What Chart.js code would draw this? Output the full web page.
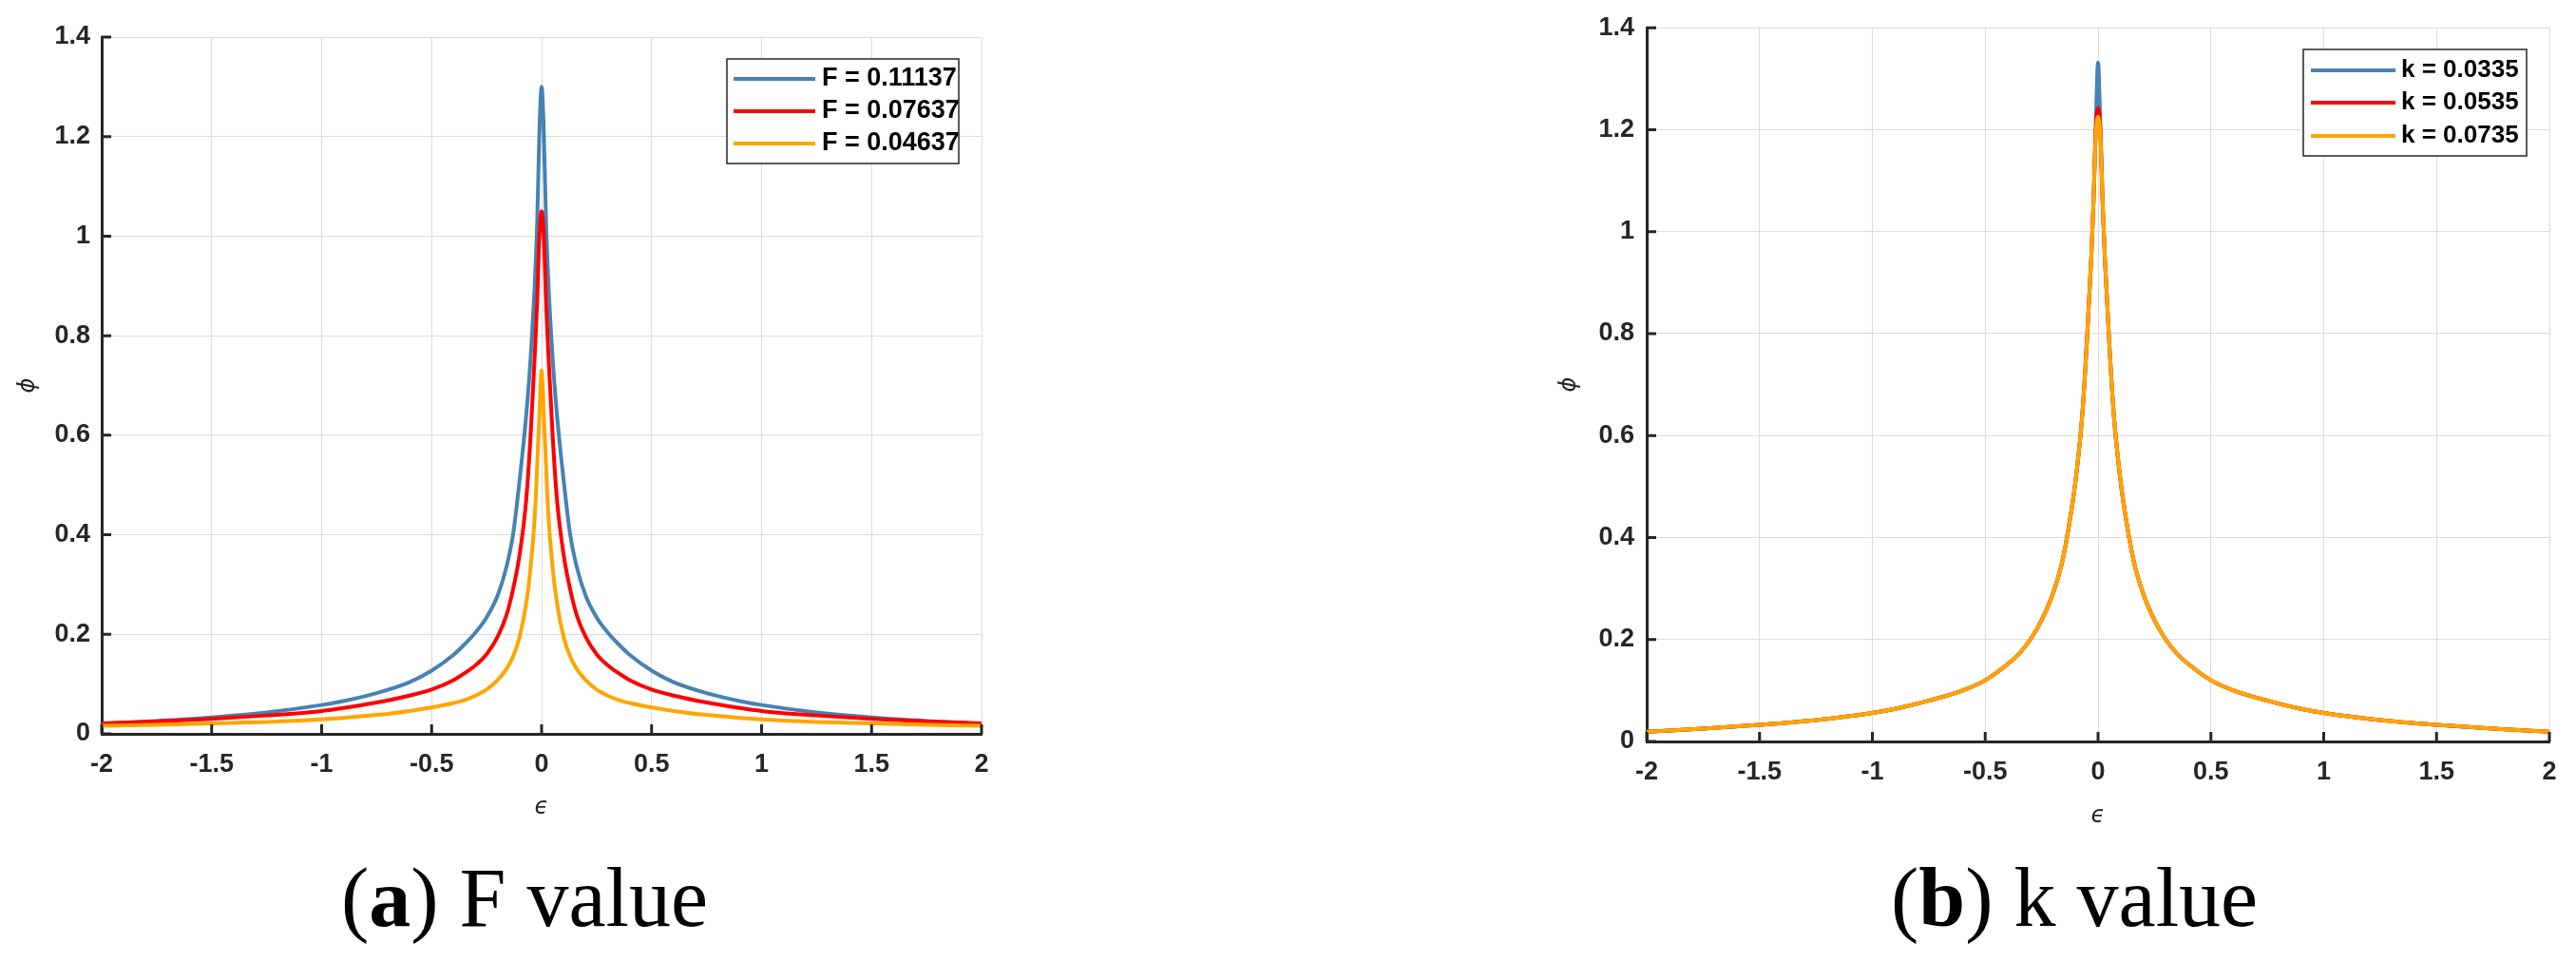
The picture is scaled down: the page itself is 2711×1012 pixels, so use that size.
<!DOCTYPE html>
<html><head><meta charset="utf-8">
<script src="https://cdn.jsdelivr.net/npm/chart.js@4.4.1/dist/chart.umd.min.js"></script>
<style>
html,body{margin:0;padding:0;background:#fff;}
#wrap{position:relative;width:2711px;height:1012px;overflow:hidden;background:#fff;}
canvas{position:absolute;}
.cap{position:absolute;font-family:"Liberation Serif","Times New Roman",serif;font-size:88px;line-height:88px;color:#000;white-space:nowrap;}
</style></head><body>
<div id="wrap">
<canvas id="c1" width="1100" height="880" style="left:0;top:0"></canvas>
<canvas id="c2" width="1111" height="880" style="left:1600px;top:0"></canvas>
<div class="cap" style="left:359px;top:901px">(<b>a</b>) F value</div>
<div class="cap" style="left:1990px;top:901px">(<b>b</b>) k value</div>
</div>
<script>
// ---- data ----
const epsilon = [-2,-1.75,-1.5,-1.25,-1,-0.9,-0.75,-0.6,-0.5,-0.4,-0.35,-0.3,-0.25,-0.2,-0.16,-0.13,-0.1,-0.07,-0.05,-0.03,-0.02,-0.01,
                 0,
                 0.01,0.02,0.03,0.05,0.07,0.1,0.13,0.16,0.2,0.25,0.3,0.35,0.4,0.5,0.6,0.75,0.9,1,1.25,1.5,1.75,2];

const labelsF = ['F = 0.11137','F = 0.07637','F = 0.04637'];
const phiF1 = [0.020,0.026,0.033,0.043,0.058,0.066,0.082,0.104,0.127,0.159,0.180,0.204,0.234,0.278,0.335,0.40,0.51,0.64,0.755,0.915,1.03,1.21,
               1.30,
               1.21,1.03,0.915,0.755,0.64,0.51,0.40,0.335,0.278,0.234,0.204,0.180,0.159,0.127,0.104,0.082,0.066,0.058,0.043,0.033,0.026,0.020];
const phiF2 = [0.021,0.025,0.030,0.037,0.046,0.052,0.063,0.077,0.089,0.108,0.122,0.138,0.160,0.195,0.238,0.29,0.36,0.47,0.60,0.77,0.87,1.00,
               1.05,
               1.00,0.87,0.77,0.60,0.47,0.36,0.29,0.238,0.195,0.160,0.138,0.122,0.108,0.089,0.077,0.063,0.052,0.046,0.037,0.030,0.025,0.021];
const phiF3 = [0.016,0.018,0.021,0.024,0.029,0.032,0.038,0.046,0.053,0.062,0.068,0.077,0.089,0.108,0.130,0.155,0.195,0.262,0.335,0.445,0.54,0.64,
               0.73,
               0.64,0.54,0.445,0.335,0.262,0.195,0.155,0.130,0.108,0.089,0.077,0.068,0.062,0.053,0.046,0.038,0.032,0.029,0.024,0.021,0.018,0.016];

const labelsK = ['k = 0.0335','k = 0.0535','k = 0.0735'];
const phiK1 = [0.019,0.025,0.0325,0.042,0.056,0.064,0.080,0.100,0.120,0.152,0.172,0.200,0.238,0.29,0.35,0.42,0.51,0.64,0.78,0.95,1.06,1.21,
               1.332,
               1.21,1.06,0.95,0.78,0.64,0.51,0.42,0.35,0.29,0.238,0.200,0.172,0.152,0.120,0.100,0.080,0.064,0.056,0.042,0.0325,0.025,0.019];
const phiK2 = [0.019,0.025,0.0325,0.042,0.056,0.064,0.080,0.100,0.120,0.152,0.172,0.200,0.238,0.29,0.35,0.42,0.51,0.64,0.78,0.95,1.06,1.20,
               1.243,
               1.20,1.06,0.95,0.78,0.64,0.51,0.42,0.35,0.29,0.238,0.200,0.172,0.152,0.120,0.100,0.080,0.064,0.056,0.042,0.0325,0.025,0.019];
const phiK3 = [0.019,0.025,0.0325,0.042,0.056,0.064,0.080,0.100,0.120,0.152,0.172,0.200,0.238,0.29,0.35,0.42,0.51,0.64,0.78,0.95,1.06,1.19,
               1.225,
               1.19,1.06,0.95,0.78,0.64,0.51,0.42,0.35,0.29,0.238,0.200,0.172,0.152,0.120,0.100,0.080,0.064,0.056,0.042,0.0325,0.025,0.019];

const xTickValues = [-2,-1.5,-1,-0.5,0,0.5,1,1.5,2];
const xTickLabels = ['-2','-1.5','-1','-0.5','0','0.5','1','1.5','2'];
const yTickValues = [0,0.2,0.4,0.6,0.8,1,1.2,1.4];
const yTickLabels = ['0','0.2','0.4','0.6','0.8','1','1.2','1.4'];

const colors = ['#4682B4','#FF0000','#FFA500'];

// ---- plugin: inward ticks + boxed legend (MATLAB style) ----
const matlabAxes = {
  id: 'matlabAxes',
  afterDatasetsDraw(chart, args, opts) {
    const {ctx, chartArea: a, scales: {x, y}} = chart;
    ctx.save();
    ctx.strokeStyle = '#262626'; ctx.lineWidth = 3;
    ctx.beginPath();
    x.ticks.forEach(t => { const p = x.getPixelForValue(t.value); ctx.moveTo(p, a.bottom); ctx.lineTo(p, a.bottom - opts.len); });
    y.ticks.forEach(t => { const p = y.getPixelForValue(t.value); ctx.moveTo(a.left, p); ctx.lineTo(a.left + opts.len, p); });
    ctx.stroke();
    const L = opts.legend;
    ctx.fillStyle = '#fff'; ctx.fillRect(L.x, L.y, L.w, L.h);
    ctx.strokeStyle = '#262626'; ctx.lineWidth = 1.5; ctx.strokeRect(L.x, L.y, L.w, L.h);
    chart.data.datasets.forEach((ds, i) => {
      const yy = L.rowY[i];
      ctx.strokeStyle = ds.borderColor; ctx.lineWidth = 4;
      ctx.beginPath(); ctx.moveTo(L.lineX0, yy); ctx.lineTo(L.lineX1, yy); ctx.stroke();
      ctx.fillStyle = '#000'; ctx.font = L.font; ctx.textBaseline = 'middle'; ctx.textAlign = 'left';
      ctx.fillText(ds.label, L.textX, yy);
    });
    ctx.restore();
  }
};

function makeChart(id, labels, series, geo) {
  const datasets = series.map((ys, i) => ({
    label: labels[i],
    data: epsilon.map((e, j) => ({x: e, y: ys[j]})),
    borderColor: colors[i],
    borderWidth: 4,
    pointRadius: 0,
    cubicInterpolationMode: 'monotone',
    fill: false,
    order: 3 - i
  }));
  const tickFont = {family: '"Liberation Sans", Arial, sans-serif', size: 27, weight: 'bold'};
  const titleFont = {family: '"DejaVu Sans", sans-serif', size: 24, style: 'italic', lineHeight: 1.2};
  return new Chart(document.getElementById(id), {
    type: 'line',
    data: {datasets},
    options: {
      responsive: false, animation: false, devicePixelRatio: 1,
      layout: {padding: geo.padding},
      plugins: {
        legend: {display: false}, tooltip: {enabled: false},
        matlabAxes: {len: 10, legend: geo.legend}
      },
      scales: {
        x: {
          type: 'linear', min: -2, max: 2,
          afterBuildTicks: s => { s.ticks = xTickValues.map(v => ({value: v})); },
          afterFit: s => { s.height = geo.xH; },
          ticks: {callback: (v, i) => xTickLabels[i], padding: 16, color: '#262626', font: tickFont, maxRotation: 0, autoSkip: false},
          grid: {color: '#dcdcdc', lineWidth: 1, drawTicks: false},
          border: {display: true, color: '#262626', width: 3},
          title: {display: true, text: 'ϵ', color: '#262626', font: titleFont, padding: {top: 0, bottom: geo.xTitlePad}}
        },
        y: {
          type: 'linear', min: 0, max: 1.4,
          afterBuildTicks: s => { s.ticks = yTickValues.map(v => ({value: v})); },
          afterFit: s => { s.width = geo.yW; },
          ticks: {callback: (v, i) => yTickLabels[i], padding: geo.yPad, color: '#262626', font: tickFont, autoSkip: false},
          grid: {color: '#dcdcdc', lineWidth: 1, drawTicks: false},
          border: {display: true, color: '#262626', width: 3},
          title: {display: true, text: 'ϕ', color: '#262626', font: titleFont, padding: {top: geo.yTitlePad, bottom: 0}}
        }
      }
    },
    plugins: [matlabAxes]
  });
}

makeChart('c1', labelsF, [phiF1, phiF2, phiF3], {
  padding: {left: 0, top: 39, right: 67, bottom: 0},
  xH: 108, yW: 107, yPad: 12, xTitlePad: 15.6, yTitlePad: 15.6,
  legend: {x: 765, y: 62, w: 244, h: 110, rowY: [83, 117, 151], lineX0: 772, lineX1: 858, textX: 865,
           font: 'bold 27px "Liberation Sans", Arial, sans-serif'}
});
makeChart('c2', labelsK, [phiK1, phiK2, phiK3], {
  padding: {left: 0, top: 29, right: 28, bottom: 0},
  xH: 100, yW: 133, yPad: 13, xTitlePad: 6.6, yTitlePad: 37.6,
  legend: {x: 824, y: 52, w: 235, h: 112, rowY: [74, 108, 143], lineX0: 832, lineX1: 921, textX: 927,
           font: 'bold 26px "Liberation Sans", Arial, sans-serif'}
});
</script>
</body></html>
